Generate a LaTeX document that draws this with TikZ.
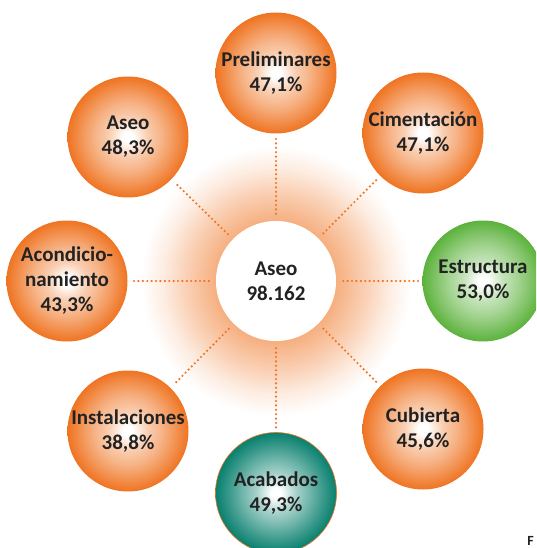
\documentclass[tikz,border=0pt]{standalone}
\usepackage{fontspec}
\setmainfont{Carlito}
\definecolor{ballO}{RGB}{239,116,34}
\definecolor{ballG}{RGB}{92,178,60}
\definecolor{ballT}{RGB}{8,128,110}
\definecolor{txt}{RGB}{34,34,34}
\pgfdeclareradialshading{orangeball}{\pgfpoint{0bp}{0bp}}{color(0bp)=(white); color(2bp)=(white); color(8bp)=(ballO!35!white); color(14bp)=(ballO!55!white); color(19bp)=(ballO!75!white); color(23bp)=(ballO!92!white); color(25bp)=(ballO); color(50bp)=(ballO)}
\pgfdeclareradialshading{greenball}{\pgfpoint{0bp}{0bp}}{color(0bp)=(white); color(2bp)=(white); color(8bp)=(ballG!35!white); color(14bp)=(ballG!55!white); color(19bp)=(ballG!75!white); color(23bp)=(ballG!92!white); color(25bp)=(ballG); color(50bp)=(ballG)}
\pgfdeclareradialshading{tealball}{\pgfpoint{0bp}{0bp}}{color(0bp)=(white); color(2bp)=(white); color(8bp)=(ballT!35!white); color(14bp)=(ballT!58!white); color(19bp)=(ballT!78!white); color(23bp)=(ballT!93!white); color(25bp)=(ballT); color(50bp)=(ballT)}
\pgfdeclareradialshading{glowshade}{\pgfpoint{0bp}{0bp}}{color(0bp)=(ballO!58!white); color(11bp)=(ballO!58!white); color(17bp)=(ballO!32!white); color(21bp)=(ballO!13!white); color(25bp)=(white); color(50bp)=(white)}
\tikzset{
  ball/.style={circle, minimum size=121pt, inner sep=0pt, align=center, text=txt,
    font=\fontsize{21}{25}\selectfont\bfseries},
  oball/.style={ball, shading=orangeball},
  gball/.style={ball, shading=greenball},
  tball/.style={ball, shading=tealball, draw=ballO, line width=0.6pt},
  hub/.style={circle, minimum size=120pt, inner sep=0pt, fill=white, align=center, text=txt,
    font=\fontsize{21}{25}\selectfont\bfseries},
  dots/.style={draw=ballO, line width=2.4pt, line cap=round, dash pattern=on 0pt off 4.4pt,
    shorten <=7pt, shorten >=4pt}
}
\begin{document}
\begin{tikzpicture}[x=1pt,y=-1pt]
\useasboundingbox (0,0) rectangle (536,548);
\clip (0,0) rectangle (536,548);
\shade[shading=glowshade] (276,281) circle (135);
\node[hub] (c) at (276,281) {Aseo\\98.162};
\node[oball] (p1) at (276,73) {Preliminares\\47,1\%};
\node[oball] (p2) at (423,133) {Cimentación\\47,1\%};
\node[gball] (p3) at (483,281) {Estructura\\53,0\%};
\node[oball] (p4) at (423,429) {Cubierta\\45,6\%};
\node[tball] (p5) at (276,493) {Acabados\\49,3\%};
\node[oball] (p6) at (128,431) {Instalaciones\\38,8\%};
\node[oball] (p7) at (67,281) {Acondicio-\\namiento\\43,3\%};
\node[oball] (p8) at (128,137) {Aseo\\48,3\%};
\foreach \p in {p1,p2,p3,p4,p5,p6,p7,p8}{
  \draw[dots] (c) -- (\p);
}
\node[text=txt, font=\fontsize{14}{16}\selectfont\bfseries, anchor=base east, inner sep=0pt] (f) at (534,545) {F};
\end{tikzpicture}
\end{document}
